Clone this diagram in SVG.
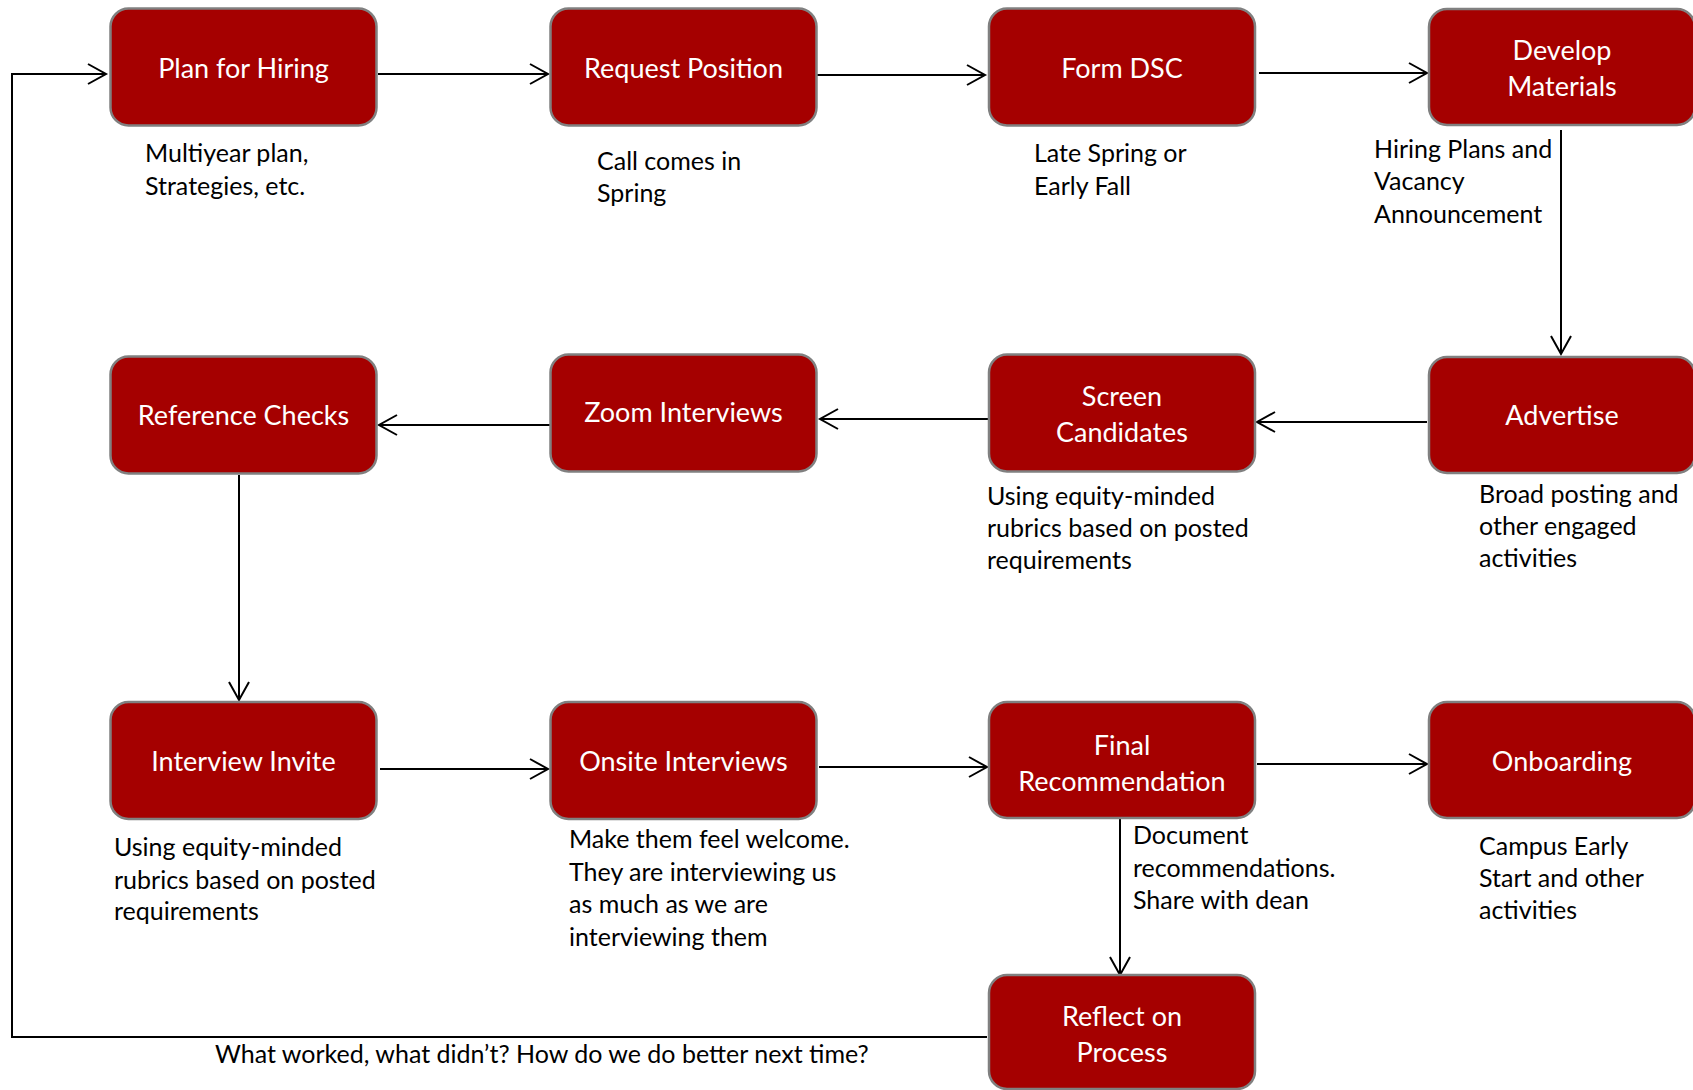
<svg xmlns="http://www.w3.org/2000/svg" width="1693" height="1090" viewBox="0 0 1693 1090">
<style>
.box{fill:#a50000;stroke:#808080;stroke-width:2.5}
.nt{font-family:Lato,"Open Sans",sans-serif;font-size:27px;fill:#ffffff;text-anchor:middle}
.dt{font-family:Lato,"Open Sans",sans-serif;font-size:25px;fill:#000000}
.cn{fill:none;stroke:#000000;stroke-width:2}
</style>
<defs>
<marker id="ah" markerUnits="userSpaceOnUse" markerWidth="24" markerHeight="26" viewBox="-20 -12 24 24" refX="0" refY="0" orient="auto">
<path d="M -18 -10 L 0 0 L -18 10" fill="none" stroke="#000000" stroke-width="2"/>
</marker>
</defs>
<rect width="1693" height="1090" fill="#ffffff"/>
<g id="connectors">
<polyline class="cn" points="987,1037 12,1037 12,74 106,74" marker-end="url(#ah)"/>
<line class="cn" x1="378" y1="74" x2="548" y2="74" marker-end="url(#ah)"/>
<line class="cn" x1="817" y1="75" x2="985" y2="75" marker-end="url(#ah)"/>
<line class="cn" x1="1259" y1="73" x2="1427" y2="73" marker-end="url(#ah)"/>
<line class="cn" x1="1561" y1="130" x2="1561" y2="354" marker-end="url(#ah)"/>
<line class="cn" x1="1427" y1="422" x2="1257" y2="422" marker-end="url(#ah)"/>
<line class="cn" x1="988" y1="419" x2="820" y2="419" marker-end="url(#ah)"/>
<line class="cn" x1="550" y1="425" x2="379" y2="425" marker-end="url(#ah)"/>
<line class="cn" x1="239" y1="475" x2="239" y2="700" marker-end="url(#ah)"/>
<line class="cn" x1="380" y1="769" x2="548" y2="769" marker-end="url(#ah)"/>
<line class="cn" x1="819" y1="767" x2="987" y2="767" marker-end="url(#ah)"/>
<line class="cn" x1="1257" y1="764" x2="1427" y2="764" marker-end="url(#ah)"/>
<line class="cn" x1="1120" y1="819" x2="1120" y2="975" marker-end="url(#ah)"/>
</g>
<g id="plan">
<rect class="box" x="110.5" y="8.5" width="266" height="117" rx="18"/>
<text class="nt" x="243.5" y="78">Plan for Hiring</text>
<text class="dt" x="145" y="162">Multiyear plan,</text>
<text class="dt" x="145" y="195">Strategies, etc.</text>
</g>
<g id="request">
<rect class="box" x="550.5" y="8.5" width="266" height="117" rx="18"/>
<text class="nt" x="683.5" y="78">Request Position</text>
<text class="dt" x="597" y="170">Call comes in</text>
<text class="dt" x="597" y="202">Spring</text>
</g>
<g id="formdsc">
<rect class="box" x="989" y="8.5" width="266" height="117" rx="18"/>
<text class="nt" x="1122" y="78">Form DSC</text>
<text class="dt" x="1034" y="162">Late Spring or</text>
<text class="dt" x="1034" y="195">Early Fall</text>
</g>
<g id="develop">
<rect class="box" x="1429" y="9" width="266" height="116" rx="18"/>
<text class="nt" x="1562" y="60">Develop</text>
<text class="nt" x="1562" y="96">Materials</text>
<text class="dt" x="1374" y="158">Hiring Plans and</text>
<text class="dt" x="1374" y="190">Vacancy</text>
<text class="dt" x="1374" y="223">Announcement</text>
</g>
<g id="advertise">
<rect class="box" x="1429" y="357" width="266" height="116" rx="18"/>
<text class="nt" x="1562" y="425">Advertise</text>
<text class="dt" x="1479" y="503">Broad posting and</text>
<text class="dt" x="1479" y="535">other engaged</text>
<text class="dt" x="1479" y="567">activities</text>
</g>
<g id="screen">
<rect class="box" x="989" y="354.5" width="266" height="117" rx="18"/>
<text class="nt" x="1122" y="406">Screen</text>
<text class="nt" x="1122" y="442">Candidates</text>
<text class="dt" x="987" y="505">Using equity-minded</text>
<text class="dt" x="987" y="537">rubrics based on posted</text>
<text class="dt" x="987" y="569">requirements</text>
</g>
<g id="zoom">
<rect class="box" x="550.5" y="354.5" width="266" height="117" rx="18"/>
<text class="nt" x="683.5" y="422">Zoom Interviews</text>
</g>
<g id="reference">
<rect class="box" x="110.5" y="356.5" width="266" height="117" rx="18"/>
<text class="nt" x="243.5" y="425">Reference Checks</text>
</g>
<g id="invite">
<rect class="box" x="110.5" y="702" width="266" height="117" rx="18"/>
<text class="nt" x="243.5" y="771">Interview Invite</text>
<text class="dt" x="114" y="856">Using equity-minded</text>
<text class="dt" x="114" y="889">rubrics based on posted</text>
<text class="dt" x="114" y="920">requirements</text>
</g>
<g id="onsite">
<rect class="box" x="550.5" y="702" width="266" height="117" rx="18"/>
<text class="nt" x="683.5" y="771">Onsite Interviews</text>
<text class="dt" x="569" y="848">Make them feel welcome.</text>
<text class="dt" x="569" y="881">They are interviewing us</text>
<text class="dt" x="569" y="913">as much as we are</text>
<text class="dt" x="569" y="946">interviewing them</text>
</g>
<g id="final">
<rect class="box" x="989" y="702" width="266" height="116" rx="18"/>
<text class="nt" x="1122" y="755">Final</text>
<text class="nt" x="1122" y="791">Recommendation</text>
<text class="dt" x="1133" y="844">Document</text>
<text class="dt" x="1133" y="877">recommendations.</text>
<text class="dt" x="1133" y="909">Share with dean</text>
</g>
<g id="onboarding">
<rect class="box" x="1429" y="702" width="266" height="116" rx="18"/>
<text class="nt" x="1562" y="771">Onboarding</text>
<text class="dt" x="1479" y="855">Campus Early</text>
<text class="dt" x="1479" y="887">Start and other</text>
<text class="dt" x="1479" y="919">activities</text>
</g>
<g id="reflect">
<rect class="box" x="989" y="975" width="266" height="114" rx="18"/>
<text class="nt" x="1122" y="1026">Reflect on</text>
<text class="nt" x="1122" y="1062">Process</text>
</g>
<g id="loop-label">
<text class="dt" x="215" y="1063">What worked, what didn’t? How do we do better next time?</text>
</g>
</svg>
